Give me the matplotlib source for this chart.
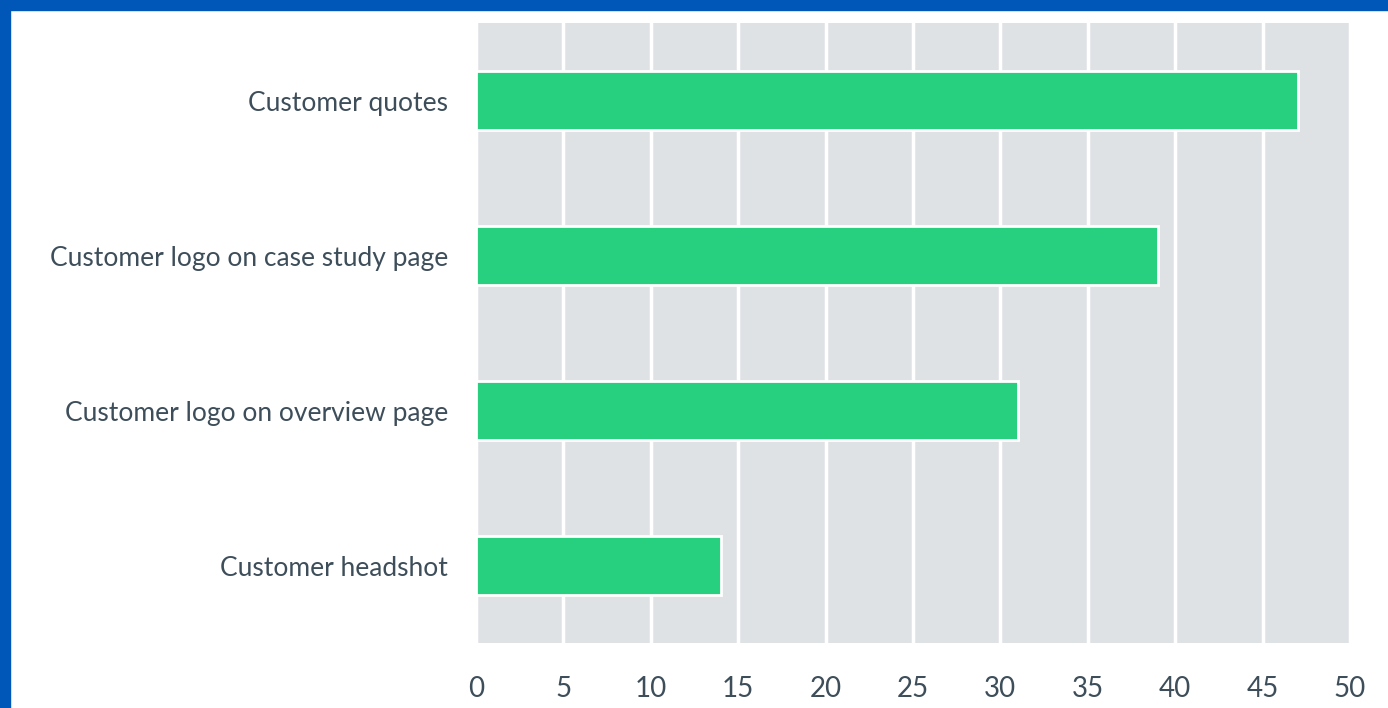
import matplotlib.pyplot as plt
from matplotlib.patches import Rectangle

categories = ["Customer quotes", "Customer logo on case study page",
              "Customer logo on overview page", "Customer headshot"]
values = [47, 39, 31, 14]
xticks = [0, 5, 10, 15, 20, 25, 30, 35, 40, 45, 50]

BAR = "#27d07e"
PANEL = "#dfe2e5"
TEXT = "#3d4e5a"
BLUE = "#0057b8"

plt.rcParams["font.family"] = ["Lato", "DejaVu Sans"]

fig = plt.figure(figsize=(13.88, 7.08), dpi=100)
ax = fig.add_axes([0.3429, 0.0918, 0.6297, 0.8757])
ax.set_facecolor(PANEL)

ypos = range(len(categories))
ax.barh(ypos, values, height=0.385, color=BAR, edgecolor="white",
        linewidth=2, zorder=3)

ax.set_xlim(0, 50)
ax.set_ylim(len(categories) - 0.5, -0.5)
ax.set_xticks(xticks)
ax.set_yticks(list(ypos))
ax.set_yticklabels(categories)
ax.xaxis.grid(True, color="white", linewidth=2.5, zorder=1)
ax.set_axisbelow(True)
ax.tick_params(axis="x", length=0, pad=24, labelsize=20, labelcolor=TEXT)
ax.tick_params(axis="y", length=0, pad=20, labelsize=19, labelcolor=TEXT)
for s in ax.spines.values():
    s.set_visible(False)

# frame strips along the top and left edges
fig.patches.append(Rectangle((0, 1 - 10 / 708), 1, 10 / 708,
                             transform=fig.transFigure, color=BLUE))
fig.patches.append(Rectangle((0, 0), 10 / 1388, 1,
                             transform=fig.transFigure, color=BLUE))

fig.savefig("out.png", dpi=100)
